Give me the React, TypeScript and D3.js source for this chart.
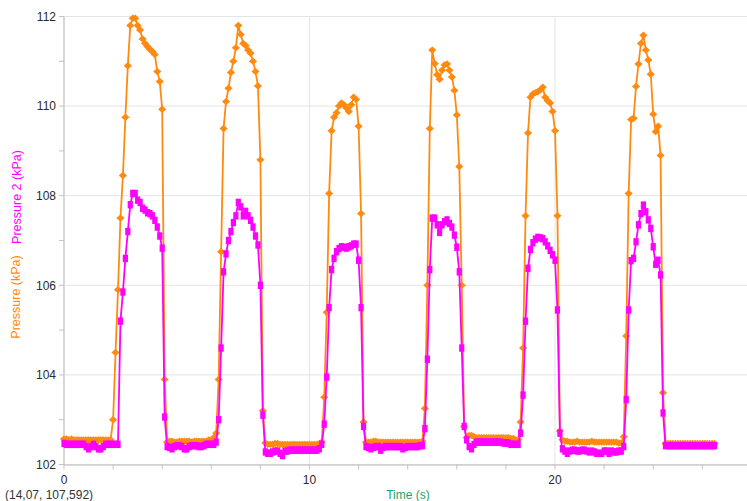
import React from "react";
import * as d3 from "d3";

// Sampling interval of the logger (s)
const SAMPLE_INTERVAL = 0.1;

// Pressure (kPa) — orange series, one value per 0.1 s starting at t = 0
const PRESSURE_KPA: number[] = [
  102.57, 102.57, 102.55, 102.57, 102.55, 102.55, 102.55, 102.55, 102.55, 102.55,
  102.55, 102.55, 102.55, 102.55, 102.55, 102.55, 102.55, 102.55, 102.55, 102.55,
  103.0, 104.5, 105.9, 107.5, 108.45, 109.75, 110.9, 111.8, 111.96, 111.96,
  111.8, 111.7, 111.5, 111.4, 111.33, 111.27, 111.22, 111.15, 110.77, 110.55, 109.93, 103.9,
  102.5, 102.52, 102.52, 102.5, 102.5, 102.52, 102.52, 102.52, 102.52, 102.52,
  102.5, 102.52, 102.52, 102.52, 102.52, 102.52, 102.52, 102.55, 102.55, 102.6,
  102.7, 103.9, 106.75, 109.5, 110.1, 110.4, 110.75, 111.0, 111.3, 111.8,
  111.6, 111.4, 111.35, 111.25, 111.18, 111.0, 110.77, 110.45, 108.8, 103.2,
  102.48, 102.45, 102.45, 102.45, 102.47, 102.47, 102.45, 102.45, 102.45, 102.45,
  102.45, 102.45, 102.45, 102.45, 102.45, 102.45, 102.45, 102.45, 102.45, 102.45,
  102.45, 102.45, 102.47, 102.5,
  103.5, 105.4, 108.05, 109.45, 109.75, 109.85, 110.0, 110.07, 110.03, 109.96,
  109.88, 110.03, 110.2, 110.15, 109.55, 107.6, 102.95,
  102.5, 102.5, 102.5, 102.52, 102.52, 102.5, 102.5, 102.5, 102.5, 102.5,
  102.5, 102.5, 102.5, 102.5, 102.5, 102.5, 102.5, 102.5, 102.5, 102.5,
  102.5, 102.5, 102.5, 102.52,
  103.25, 106.0, 109.5, 111.25, 110.95, 110.7, 110.6, 110.8, 110.92, 110.94,
  110.8, 110.65, 110.35, 109.8, 108.65, 106.0, 102.85,
  102.6, 102.65, 102.65, 102.62, 102.6, 102.6, 102.6, 102.6, 102.6, 102.6,
  102.6, 102.6, 102.6, 102.6, 102.6, 102.6, 102.6, 102.6, 102.58, 102.58,
  102.55, 102.55,
  102.95, 104.6, 107.55, 109.4, 110.2, 110.27, 110.3, 110.32, 110.36, 110.42,
  110.2, 110.12, 110.07, 109.88, 109.45, 107.55, 102.75,
  102.55, 102.52, 102.52, 102.5, 102.5, 102.5, 102.52, 102.5, 102.5, 102.5,
  102.5, 102.5, 102.52, 102.5, 102.5, 102.5, 102.5, 102.5, 102.5, 102.5,
  102.5, 102.5, 102.5, 102.48, 102.48,
  102.62, 104.87, 108.05, 109.7, 109.73, 110.44, 110.94, 111.4, 111.58, 111.25,
  111.03, 110.71, 109.82, 109.43, 109.55, 108.9, 103.6,
  102.47, 102.47, 102.47, 102.47, 102.47, 102.47, 102.47, 102.47, 102.47, 102.47,
  102.47, 102.47, 102.47, 102.47, 102.47, 102.47, 102.47, 102.47, 102.47, 102.47,
  102.47,
];

// Pressure 2 (kPa) — magenta series, one value per 0.1 s starting at t = 0
const PRESSURE2_KPA: number[] = [
  102.47, 102.45, 102.45, 102.45, 102.45, 102.45, 102.45, 102.45, 102.45, 102.4,
  102.35, 102.4, 102.45, 102.4, 102.35, 102.35, 102.4, 102.45, 102.45, 102.45,
  102.45, 102.45, 102.45,
  105.2, 105.85, 106.6, 107.2, 107.8, 108.05, 108.05, 107.9, 107.85, 107.72,
  107.68, 107.62, 107.6, 107.55, 107.45, 107.3, 107.1, 106.83, 103.06,
  102.4, 102.38, 102.35, 102.4, 102.42, 102.42, 102.4, 102.35, 102.35, 102.4,
  102.42, 102.42, 102.42, 102.4, 102.4, 102.42, 102.45, 102.45, 102.45, 102.45,
  102.5, 103.0, 104.6, 106.3, 106.7, 107.0, 107.2, 107.4, 107.55, 107.85,
  107.75, 107.55, 107.65, 107.55, 107.45, 107.3, 107.1, 106.9, 106.0, 103.1,
  102.28, 102.25, 102.25, 102.28, 102.3, 102.3, 102.25, 102.2, 102.3, 102.3,
  102.32, 102.32, 102.32, 102.32, 102.32, 102.32, 102.32, 102.32, 102.32, 102.32,
  102.32, 102.32, 102.35, 102.45,
  102.9, 103.95, 105.5, 106.35, 106.6, 106.75, 106.82, 106.86, 106.85, 106.83,
  106.86, 106.88, 106.92, 106.92, 106.56, 105.5, 102.85,
  102.4, 102.38, 102.35, 102.38, 102.4, 102.4, 102.32, 102.38, 102.4, 102.4,
  102.4, 102.4, 102.4, 102.4, 102.4, 102.35, 102.38, 102.4, 102.4, 102.4,
  102.4, 102.4, 102.42, 102.42,
  102.8, 104.35, 106.35, 107.5, 107.5, 107.35, 107.18, 107.35, 107.42, 107.46,
  107.38, 107.3, 107.12, 106.85, 106.3, 104.6, 102.85,
  102.55, 102.4, 102.35, 102.45, 102.5, 102.5, 102.5, 102.5, 102.5, 102.5,
  102.5, 102.5, 102.5, 102.5, 102.5, 102.48, 102.48, 102.48, 102.45, 102.45,
  102.45, 102.45,
  102.7, 103.55, 105.2, 106.38, 106.8, 106.95, 107.03, 107.07, 107.06, 107.04,
  106.97, 106.88, 106.78, 106.68, 106.56, 105.45, 102.7,
  102.35, 102.3, 102.25, 102.3, 102.32, 102.32, 102.3, 102.3, 102.32, 102.32,
  102.3, 102.28, 102.3, 102.28, 102.25, 102.25, 102.25, 102.3, 102.3, 102.25,
  102.3, 102.28, 102.28, 102.3, 102.3,
  102.4, 103.45, 105.45, 106.55, 106.6, 106.97, 107.35, 107.6, 107.79, 107.64,
  107.46, 107.27, 106.86, 106.47, 106.56, 106.23, 103.15,
  102.42, 102.42, 102.42, 102.42, 102.42, 102.42, 102.42, 102.42, 102.42, 102.42,
  102.42, 102.42, 102.42, 102.42, 102.42, 102.42, 102.42, 102.42, 102.42, 102.42,
  102.42,
];

const X_TICKS = [0, 10, 20];
const X_MINOR_TICKS = [2, 4, 6, 8, 12, 14, 16, 18, 22, 24, 26];
const Y_TICKS = [102, 104, 106, 108, 110, 112];
const Y_MINOR_TICKS = [103, 105, 107, 109, 111];

const X_LABEL = "Time (s)";
const Y_LABEL_1 = "Pressure (kPa)";
const Y_LABEL_2 = "Pressure 2 (kPa)";
const CURSOR_TEXT = "(14,07, 107,592)";

const W = 747;
const H = 501;
const FONT = "'Liberation Sans', Arial, Helvetica, sans-serif";
const ORANGE = "#ff8a10";
const MAGENTA = "#ff00ff";

export default function App() {
  const x = d3.scaleLinear().domain([0, 27.82]).range([64, 747]);
  const y = d3.scaleLinear().domain([102, 112]).range([464.5, 16.5]);

  const s1 = PRESSURE_KPA.map((v, i) => ({ t: i * SAMPLE_INTERVAL, v }));
  const s2 = PRESSURE2_KPA.map((v, i) => ({ t: i * SAMPLE_INTERVAL, v }));

  const line = d3
    .line<{ t: number; v: number }>()
    .x((d) => x(d.t))
    .y((d) => y(d.v));

  const diamond = (cx: number, cy: number) =>
    `M${cx},${cy - 3.7}L${cx + 4.1},${cy}L${cx},${cy + 3.7}L${cx - 4.1},${cy}Z`;

  const [x0, x1] = x.range();
  const [yb, yt] = y.range();

  return (
    <svg
      width={W}
      height={H}
      style={{ position: "absolute", left: 0, top: 0, background: "#fff" }}
      fontFamily={FONT}
    >
      <rect x={0} y={0} width={W} height={H} fill="#fff" />
      {/* grid */}
      {Y_TICKS.map((v) => (
        <line key={"gy" + v} x1={x0} x2={x1} y1={y(v)} y2={y(v)} stroke="#e4e4e4" strokeWidth={1} />
      ))}
      {X_TICKS.map((v) => (
        <line key={"gx" + v} x1={x(v)} x2={x(v)} y1={yb} y2={yt} stroke="#e4e4e4" strokeWidth={1} />
      ))}
      {/* axes */}
      <line x1={x0} x2={x0} y1={yt} y2={yb + 1} stroke="#cccccc" strokeWidth={1.5} />
      <line x1={x0} x2={x1} y1={yb + 0.5} y2={yb + 0.5} stroke="#cccccc" strokeWidth={1.5} />
      {Y_TICKS.concat(Y_MINOR_TICKS).map((v) => (
        <line key={"ty" + v} x1={x0 - 5} x2={x0} y1={y(v)} y2={y(v)} stroke="#c4c4c4" strokeWidth={1} />
      ))}
      {X_TICKS.concat(X_MINOR_TICKS).map((v) => (
        <line key={"tx" + v} x1={x(v)} x2={x(v)} y1={yb} y2={yb + 5} stroke="#c4c4c4" strokeWidth={1} />
      ))}
      {/* tick labels */}
      {Y_TICKS.map((v) => (
        <text key={"ly" + v} x={x0 - 8} y={y(v)} dy="0.35em" textAnchor="end" fontSize={12} fill="#2a2a2a">
          {v}
        </text>
      ))}
      {X_TICKS.map((v) => (
        <text key={"lx" + v} x={x(v)} y={484} textAnchor="middle" fontSize={12} fill="#2a2a2a">
          {v}
        </text>
      ))}
      {/* axis labels */}
      <text x={408} y={499} textAnchor="middle" fontSize={12} fill="#1aa36c">
        {X_LABEL}
      </text>
      <text transform="translate(20,297) rotate(-90)" textAnchor="middle" fontSize={12.5} fill={ORANGE}>
        {Y_LABEL_1}
      </text>
      <text transform="translate(21,197) rotate(-90)" textAnchor="middle" fontSize={12.5} fill={MAGENTA}>
        {Y_LABEL_2}
      </text>
      <text x={5} y={499} fontSize={12} fill="#333">
        {CURSOR_TEXT}
      </text>
      {/* series */}
      <path d={line(s1) || ""} fill="none" stroke={ORANGE} strokeWidth={1.8} />
      {s1.map((d, i) => (
        <path key={"o" + i} d={diamond(x(d.t), y(d.v))} fill={ORANGE} />
      ))}
      <path d={line(s2) || ""} fill="none" stroke={MAGENTA} strokeWidth={1.8} />
      {s2.map((d, i) => (
        <rect key={"m" + i} x={x(d.t) - 2.6} y={y(d.v) - 3.7} width={5.2} height={7.4} fill={MAGENTA} />
      ))}
    </svg>
  );
}
